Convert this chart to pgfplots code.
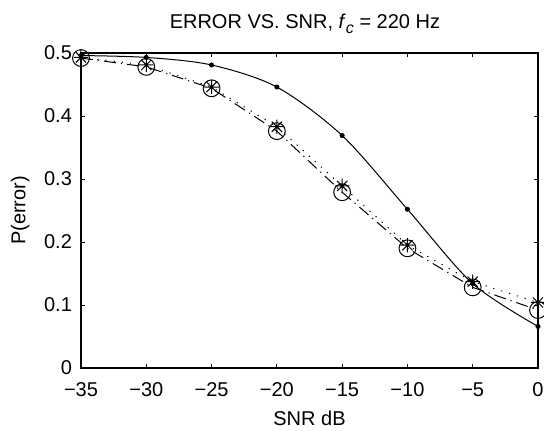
\documentclass[border=0pt]{standalone}
\usepackage{pgfplots}
\pgfplotsset{compat=1.18}
\usepackage{fontspec}
\setmainfont{Liberation Sans}

% MATLAB-style asterisk: plus and cross
\pgfdeclareplotmark{mstar}{%
  \pgfpathmoveto{\pgfqpoint{-\pgfplotmarksize}{0pt}}%
  \pgfpathlineto{\pgfqpoint{\pgfplotmarksize}{0pt}}%
  \pgfpathmoveto{\pgfqpoint{0pt}{-\pgfplotmarksize}}%
  \pgfpathlineto{\pgfqpoint{0pt}{\pgfplotmarksize}}%
  \pgfpathmoveto{\pgfqpoint{-0.707\pgfplotmarksize}{-0.707\pgfplotmarksize}}%
  \pgfpathlineto{\pgfqpoint{0.707\pgfplotmarksize}{0.707\pgfplotmarksize}}%
  \pgfpathmoveto{\pgfqpoint{-0.707\pgfplotmarksize}{0.707\pgfplotmarksize}}%
  \pgfpathlineto{\pgfqpoint{0.707\pgfplotmarksize}{-0.707\pgfplotmarksize}}%
  \pgfusepathqstroke}

\begin{document}
\begin{tikzpicture}
\begin{axis}[
    at={(0,0)}, anchor=south west,
    width=228.5pt, height=157.5pt,
    scale only axis,
    xmin=-35, xmax=0,
    ymin=0, ymax=0.5,
    xtick={-35,-30,...,0},
    xticklabels={−35,−30,−25,−20,−15,−10,−5,0},
    ytick={0,0.1,0.2,0.3,0.4,0.5},
    yticklabels={0,0.1,0.2,0.3,0.4,0.5},
    tick align=inside,
    major tick length=2pt,
    axis line style={line width=0.75pt},
    every tick/.style={black, line width=0.5pt},
    ticklabel style={font=\fontsize{10}{12}\selectfont},
    xticklabel style={anchor=center, yshift=-11pt},
    yticklabel style={xshift=-1pt},
    label style={font=\fontsize{10}{12}\selectfont},
    title style={font=\fontsize{10}{12}\selectfont, at={(0.49,1)}, anchor=center, yshift=8.5pt},
    title={ERROR VS. SNR, \textit{f}\raisebox{-0.45ex}{\fontsize{8}{9}\selectfont\textit{c}} = 220 Hz},
    xlabel={SNR dB},
    ylabel={P(error)},
    xlabel style={at={(axis description cs:0.5,0)}, anchor=center, yshift=-25pt},
    ylabel style={at={(axis description cs:-0.133,0.5)}, anchor=center},
    clip=false,
]
% solid curve with dots
\addplot[black, line width=0.5pt, smooth, tension=0.5, mark=*, mark size=1pt] coordinates {
  (-35,0.496) (-30,0.493) (-25,0.481) (-20,0.446) (-15,0.369) (-10,0.252) (-5,0.134) (0,0.066)
};
% dotted with asterisks
\addplot[black, line width=0.5pt, dash pattern=on 0.6pt off 3.5pt, mark=mstar, mark size=3.6pt,
  mark options={solid, line width=0.5pt}] coordinates {
  (-35,0.493) (-30,0.481) (-25,0.446) (-20,0.383) (-15,0.289) (-10,0.195) (-5,0.137) (0,0.104)
};
% dash-dot with circles
\addplot[black, line width=0.5pt, dash pattern=on 6pt off 2.5pt on 0.6pt off 2.5pt, mark=o, mark size=4.2pt,
  mark options={solid, line width=0.5pt}] coordinates {
  (-35,0.492) (-30,0.478) (-25,0.444) (-20,0.376) (-15,0.279) (-10,0.190) (-5,0.128) (0,0.092)
};
\end{axis}
\pgfresetboundingbox
\path[use as bounding box] (-40.5pt,-31pt) rectangle (231.5pt,184pt);
\end{tikzpicture}
\end{document}
